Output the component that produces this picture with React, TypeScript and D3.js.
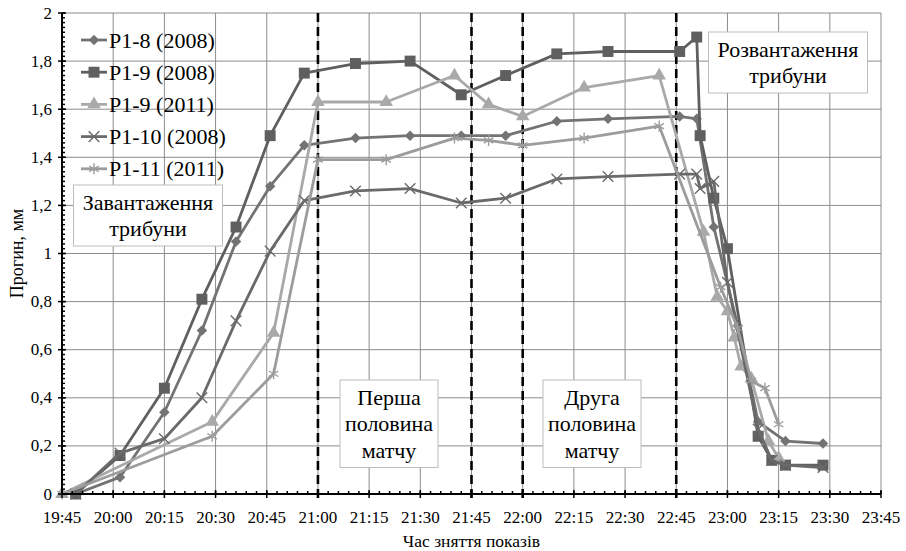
import React from 'react';
import * as d3 from 'd3';

// час зняття показів (hh:mm) та прогини, мм
const timesP18 = ['19:49', '20:02', '20:15', '20:26', '20:36', '20:46', '20:56', '21:11', '21:27', '21:42', '21:55', '22:10', '22:25', '22:46', '22:51', '22:56', '23:03', '23:09', '23:17', '23:28'];
const valuesP18 = [0, 0.07, 0.34, 0.68, 1.05, 1.28, 1.45, 1.48, 1.49, 1.49, 1.49, 1.55, 1.56, 1.57, 1.56, 1.11, 0.7, 0.3, 0.22, 0.21];

const timesP19a = ['19:49', '20:02', '20:15', '20:26', '20:36', '20:46', '20:56', '21:11', '21:27', '21:42', '21:55', '22:10', '22:25', '22:46', '22:51', '22:52', '22:56', '23:00', '23:09', '23:13', '23:17', '23:28'];
const valuesP19a = [0, 0.16, 0.44, 0.81, 1.11, 1.49, 1.75, 1.79, 1.8, 1.66, 1.74, 1.83, 1.84, 1.84, 1.9, 1.49, 1.23, 1.02, 0.24, 0.14, 0.12, 0.12];

const timesP19b = ['19:45', '20:29', '20:47', '21:00', '21:20', '21:40', '21:50', '22:00', '22:18', '22:40', '22:53', '22:57', '23:00', '23:02', '23:04', '23:07', '23:12', '23:15'];
const valuesP19b = [0, 0.3, 0.67, 1.63, 1.63, 1.74, 1.62, 1.57, 1.69, 1.74, 1.09, 0.82, 0.76, 0.65, 0.53, 0.48, 0.22, 0.15];

const timesP110 = ['19:49', '20:02', '20:15', '20:26', '20:36', '20:46', '20:56', '21:11', '21:27', '21:42', '21:55', '22:10', '22:25', '22:46', '22:51', '22:52', '22:56', '23:00', '23:09', '23:13', '23:17', '23:28'];
const valuesP110 = [0, 0.17, 0.23, 0.4, 0.72, 1.01, 1.22, 1.26, 1.27, 1.21, 1.23, 1.31, 1.32, 1.33, 1.33, 1.27, 1.3, 0.88, 0.27, 0.14, 0.12, 0.11];

const timesP111 = ['19:45', '20:29', '20:47', '21:00', '21:20', '21:40', '21:50', '22:00', '22:18', '22:40', '22:58', '23:03', '23:07', '23:11', '23:15'];
const valuesP111 = [0, 0.24, 0.5, 1.39, 1.39, 1.48, 1.47, 1.45, 1.48, 1.53, 0.86, 0.69, 0.47, 0.44, 0.29];

const seriesNames = ['P1-8 (2008)', 'P1-9 (2008)', 'P1-9 (2011)', 'P1-10 (2008)', 'P1-11 (2011)'];
const markerKinds = ['diamond', 'square', 'triangle', 'times', 'asterisk'];
const seriesColors = ['#737373', '#5f5f5f', '#a9a9a9', '#6a6a6a', '#9c9c9c'];

const dashedTimes = ['21:00', '21:45', '22:00', '22:45'];

const width = 906;
const height = 551;
const left = 62;
const right = 881;
const top = 13;
const bottom = 494;

const font = 'Liberation Serif, DejaVu Serif, serif';

const toMin = (s: string) => {
  const [h, m] = s.split(':').map(Number);
  return h * 60 + m - (19 * 60 + 45);
};

const fmtTime = (m: number) => {
  const t = 19 * 60 + 45 + m;
  return Math.floor(t / 60) + ':' + String(t % 60).padStart(2, '0');
};

const fmtY = (v: number) => {
  const r = Math.round(v * 10) / 10;
  return Number.isInteger(r) ? String(r) : r.toFixed(1).replace('.', ',');
};

const x = d3.scaleLinear().domain([0, 240]).range([left, right]);
const y = d3.scaleLinear().domain([0, 2]).range([bottom, top]);

const series = [
  [timesP18, valuesP18],
  [timesP19a, valuesP19a],
  [timesP19b, valuesP19b],
  [timesP110, valuesP110],
  [timesP111, valuesP111],
].map(([ts, vs], i) => ({
  name: seriesNames[i],
  kind: markerKinds[i],
  color: seriesColors[i],
  points: (ts as string[]).map((t, j) => ({ t: toMin(t), v: (vs as number[])[j] })),
}));

const line = d3
  .line<{ t: number; v: number }>()
  .x((d) => x(d.t))
  .y((d) => y(d.v));

const Marker = ({ kind, color, cx, cy }: { kind: string; color: string; cx: number; cy: number }) => {
  if (kind === 'diamond') {
    return <path d={d3.symbol(d3.symbolSquare, 55)()!} transform={`translate(${cx},${cy}) rotate(45)`} fill={color} />;
  }
  if (kind === 'square') {
    return <path d={d3.symbol(d3.symbolSquare, 120)()!} transform={`translate(${cx},${cy})`} fill={color} />;
  }
  if (kind === 'triangle') {
    return <path d={d3.symbol(d3.symbolTriangle, 80)()!} transform={`translate(${cx},${cy})`} fill={color} />;
  }
  if (kind === 'times') {
    return <path d={d3.symbol(d3.symbolTimes, 75)()!} transform={`translate(${cx},${cy})`} fill="none" stroke={color} strokeWidth={1.4} />;
  }
  return <path d={d3.symbol(d3.symbolAsterisk, 85)()!} transform={`translate(${cx},${cy})`} fill="none" stroke={color} strokeWidth={1.4} />;
};

const Note = ({ cx, yTop, w, lines }: { cx: number; yTop: number; w: number; lines: string[] }) => {
  const lh = 26.5;
  const h = lines.length * lh + 8;
  return (
    <g>
      <rect x={cx - w / 2} y={yTop} width={w} height={h} fill="#fff" stroke="#bdbdbd" strokeWidth={1} />
      {lines.map((s, i) => (
        <text key={i} x={cx} y={yTop + 4 + lh * (i + 0.5)} textAnchor="middle" dominantBaseline="central" fontSize={22} fill="#000">
          {s}
        </text>
      ))}
    </g>
  );
};

export default function App() {
  const xMajor = d3.range(0, 241, 15);
  const xMinor = d3.range(0, 241, 3);
  const yMajor = d3.range(0, 2.001, 0.2);
  const yMinor = d3.range(0, 2.001, 0.02);

  return (
    <svg width={width} height={height} style={{ position: 'absolute', left: 0, top: 0, background: '#fff', fontFamily: font }}>
      {/* сітка */}
      {yMajor.map((v, i) => (
        <line key={'gy' + i} x1={left} x2={right} y1={y(v)} y2={y(v)} stroke="#8c8c8c" strokeWidth={1} />
      ))}
      {xMajor.map((m, i) => (
        <line key={'gx' + i} x1={x(m)} x2={x(m)} y1={top} y2={bottom} stroke="#8c8c8c" strokeWidth={1} />
      ))}

      {/* межі таймів */}
      {dashedTimes.map((t, i) => (
        <line key={'d' + i} x1={x(toMin(t))} x2={x(toMin(t))} y1={top} y2={bottom + 4} stroke="#000" strokeWidth={2.6} strokeDasharray="9,5" />
      ))}

      {/* ряди */}
      {series.map((s, i) => (
        <g key={'s' + i}>
          <path d={line(s.points)!} fill="none" stroke={s.color} strokeWidth={2.8} strokeLinejoin="round" />
          {s.points.map((p, j) => (
            <Marker key={j} kind={s.kind} color={s.color} cx={x(p.t)} cy={y(p.v)} />
          ))}
        </g>
      ))}

      {/* осі */}
      <line x1={left} x2={left} y1={top} y2={bottom} stroke="#000" strokeWidth={2} />
      <line x1={left} x2={right} y1={bottom} y2={bottom} stroke="#000" strokeWidth={2} />
      {yMinor.map((v, i) => (
        <line key={'ym' + i} x1={left} x2={left + 3} y1={y(v)} y2={y(v)} stroke="#000" strokeWidth={1.5} />
      ))}
      {yMajor.map((v, i) => (
        <g key={'yt' + i}>
          <line x1={left - 4} x2={left + 4} y1={y(v)} y2={y(v)} stroke="#000" strokeWidth={1.5} />
          <text x={left - 10} y={y(v)} textAnchor="end" dominantBaseline="central" fontSize={17} fill="#000">
            {fmtY(v)}
          </text>
        </g>
      ))}
      {xMinor.map((m, i) => (
        <line key={'xm' + i} x1={x(m)} x2={x(m)} y1={bottom} y2={bottom - 3} stroke="#000" strokeWidth={1.5} />
      ))}
      {xMajor.map((m, i) => (
        <g key={'xt' + i}>
          <line x1={x(m)} x2={x(m)} y1={bottom - 4} y2={bottom + 4} stroke="#000" strokeWidth={1.5} />
          <text x={x(m)} y={bottom + 23} textAnchor="middle" dominantBaseline="central" fontSize={17} fill="#000">
            {fmtTime(m)}
          </text>
        </g>
      ))}

      <text x={(left + right) / 2} y={541} textAnchor="middle" dominantBaseline="central" fontSize={17.5} fill="#000">
        Час зняття показів
      </text>
      <text transform={`translate(17,${(top + bottom) / 2}) rotate(-90)`} textAnchor="middle" dominantBaseline="central" fontSize={18} fill="#000">
        Прогин, мм
      </text>

      {/* легенда */}
      {series.map((s, i) => {
        const ly = 40 + i * 32.2;
        return (
          <g key={'l' + i}>
            <line x1={81} x2={107} y1={ly} y2={ly} stroke={s.color} strokeWidth={2.8} />
            <Marker kind={s.kind} color={s.color} cx={94} cy={ly} />
            <text x={109} y={ly} dominantBaseline="central" fontSize={22} fill="#000">
              {s.name}
            </text>
          </g>
        );
      })}

      {/* підписи */}
      <Note cx={148} yTop={185} w={149} lines={['Завантаження', 'трибуни']} />
      <Note cx={788} yTop={32} w={159} lines={['Розвантаження', 'трибуни']} />
      <Note cx={389} yTop={380} w={98} lines={['Перша', 'половина', 'матчу']} />
      <Note cx={592} yTop={380} w={98} lines={['Друга', 'половина', 'матчу']} />
    </svg>
  );
}
